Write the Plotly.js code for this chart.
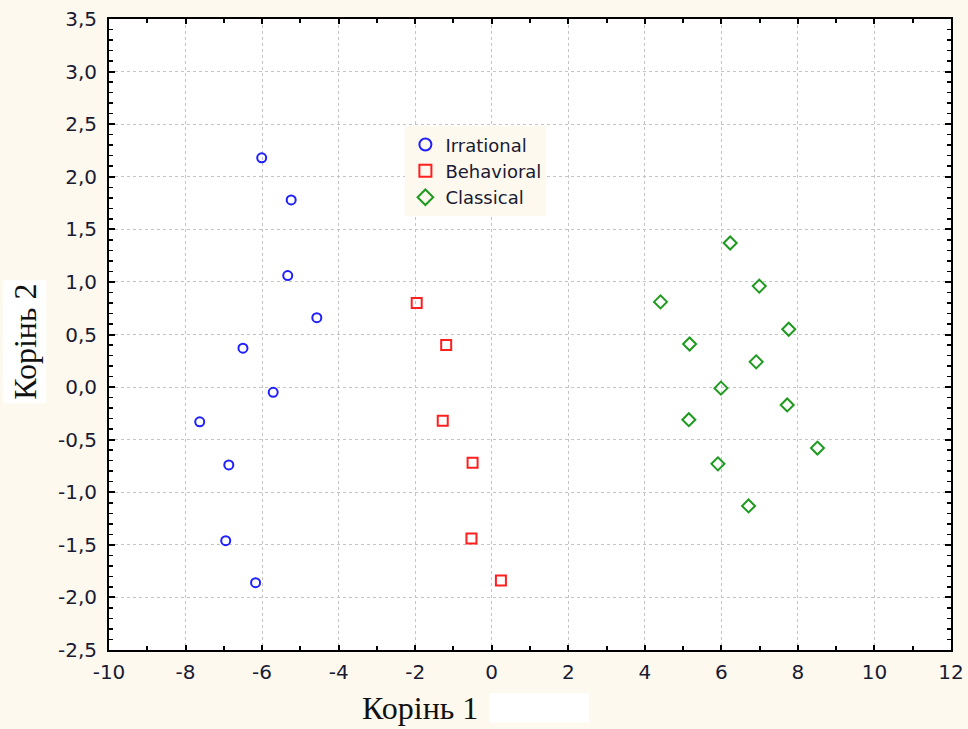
<!DOCTYPE html>
<html>
<head>
<meta charset="utf-8">
<script src="https://cdn.plot.ly/plotly-3.0.1.min.js"></script>
<style>html,body{margin:0;padding:0;background:#FDF9EE;}</style>
</head>
<body>
<div id="chart" style="width:968px;height:729px;"></div>
<script>
// Data
const seriesNames = ["Irrational", "Behavioral", "Classical"];

const irrationalX = [-6.01, -5.24, -5.33, -4.57, -6.50, -5.71, -7.63, -6.87, -6.95, -6.17];
const irrationalY = [2.18, 1.78, 1.06, 0.66, 0.37, -0.05, -0.33, -0.74, -1.46, -1.86];

const behavioralX = [-1.96, -1.19, -1.28, -0.50, -0.53, 0.24];
const behavioralY = [0.80, 0.40, -0.32, -0.72, -1.44, -1.84];

const classicalX = [6.23, 6.99, 4.41, 7.76, 5.17, 6.91, 5.99, 7.72, 5.15, 8.51, 5.91, 6.71];
const classicalY = [1.37, 0.96, 0.81, 0.55, 0.41, 0.24, -0.01, -0.17, -0.31, -0.58, -0.73, -1.13];

// Tick labels (hyphen minus and decimal comma as in the reference)
const xTickVals = [-10, -8, -6, -4, -2, 0, 2, 4, 6, 8, 10, 12];
const xTickText = ["-10", "-8", "-6", "-4", "-2", "0", "2", "4", "6", "8", "10", "12"];
const yTickVals = [-2.5, -2, -1.5, -1, -0.5, 0, 0.5, 1, 1.5, 2, 2.5, 3, 3.5];
const yTickText = ["-2,5", "-2,0", "-1,5", "-1,0", "-0,5", "0,0", "0,5", "1,0", "1,5", "2,0", "2,5", "3,0", "3,5"];

const xTitle = "Корінь 1";
const yTitle = "Корінь 2";

const traces = [
  {x: irrationalX, y: irrationalY, name: seriesNames[0], type: "scatter", mode: "markers",
   marker: {symbol: "circle-open", size: 9, color: "#1F1FFF", line: {width: 2, color: "#1F1FFF"}}},
  {x: behavioralX, y: behavioralY, name: seriesNames[1], type: "scatter", mode: "markers",
   marker: {symbol: "square-open", size: 10, color: "#FF1F1F", line: {width: 2, color: "#FF1F1F"}}},
  {x: classicalX, y: classicalY, name: seriesNames[2], type: "scatter", mode: "markers",
   marker: {symbol: "diamond-open", size: 10, color: "#1E9A1E", line: {width: 2, color: "#1E9A1E"}}}
];

const tickFont = {family: "DejaVu Sans, Arial, sans-serif", size: 20, color: "#1a1a33"};

const layout = {
  width: 968, height: 729,
  paper_bgcolor: "#FDF9EE",
  plot_bgcolor: "#FFFFFF",
  margin: {l: 109, r: 17, t: 19, b: 79},
  showlegend: true,
  legend: {
    x: 0.352, y: 0.83, xanchor: "left", yanchor: "top",
    bgcolor: "#FDF9EE", borderwidth: 0,
    font: {family: "DejaVu Sans, Arial, sans-serif", size: 18, color: "#1a1a33"},
    itemsizing: "constant", tracegroupgap: 0, itemwidth: 30
  },
  xaxis: {
    range: [-10, 12], tickmode: "array", tickvals: xTickVals, ticktext: xTickText,
    showline: true, linecolor: "#000", linewidth: 2, mirror: "ticks",
    ticks: "inside", ticklen: 5, tickwidth: 2, tickcolor: "#000",
    minor: {dtick: 1, tick0: 0, ticks: "inside", ticklen: 4, tickwidth: 2, tickcolor: "#000", showgrid: false},
    showgrid: true, gridcolor: "#C4C4C4", griddash: "dot", gridwidth: 1,
    zeroline: false, tickfont: tickFont, ticklabelstandoff: 3
  },
  yaxis: {
    range: [-2.5, 3.5], tickmode: "array", tickvals: yTickVals, ticktext: yTickText,
    showline: true, linecolor: "#000", linewidth: 2, mirror: "ticks",
    ticks: "inside", ticklen: 6, tickwidth: 2, tickcolor: "#000",
    minor: {dtick: 0.1, tick0: 0, ticks: "inside", ticklen: 4, tickwidth: 1.5, tickcolor: "#000", showgrid: false},
    showgrid: true, gridcolor: "#C4C4C4", griddash: "dot", gridwidth: 1,
    zeroline: false, tickfont: tickFont, ticklabelstandoff: 6
  },
  shapes: [
    {type: "rect", xref: "paper", yref: "paper", x0: 0.452, x1: 0.57, y0: -0.068, y1: -0.115,
     fillcolor: "#FFFFFF", line: {width: 0}, layer: "below"}
  ],
  annotations: [
    {text: xTitle, xref: "paper", yref: "paper", x: 0.369, y: -0.092, xanchor: "center", yanchor: "middle",
     showarrow: false, font: {family: "Liberation Serif, Times New Roman, serif", size: 32, color: "#111"}},
    {text: yTitle, xref: "paper", yref: "paper", x: -0.1, y: 0.488, xanchor: "center", yanchor: "middle",
     textangle: -90, showarrow: false, bgcolor: "#FFFFFF", borderpad: 3,
     font: {family: "Liberation Serif, Times New Roman, serif", size: 32, color: "#111"}}
  ]
};

Plotly.newPlot("chart", traces, layout, {displayModeBar: false, staticPlot: true});
</script>
</body>
</html>
